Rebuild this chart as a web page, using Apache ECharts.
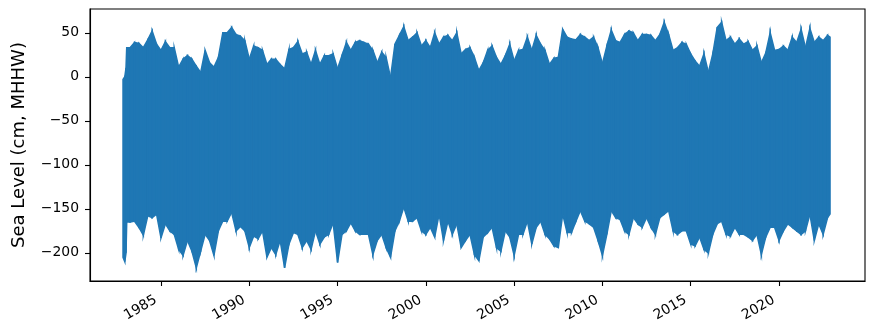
<!DOCTYPE html>
<html><head><meta charset="utf-8">
<script src="https://cdn.jsdelivr.net/npm/echarts@6/dist/echarts.min.js"></script>
<style>html,body{margin:0;padding:0;background:#fff}#chart{width:875px;height:335px}</style>
</head><body><div id="chart"></div>
<script>
// Time (decimal years) of each envelope sample
const years = [1982.85,1982.95,1983.02,1983.06,
1983.25,1983.5,1983.75,1984,1984.25,1984.5,1984.75,1985,1985.25,1985.5,1985.75,1986,
1986.25,1986.5,1986.75,1987,1987.25,1987.5,1987.75,1988,1988.25,1988.5,1988.75,1989,
1989.25,1989.5,1989.75,1990,1990.25,1990.5,1990.75,1991,1991.25,1991.5,1991.75,1992,
1992.25,1992.5,1992.75,1993,1993.25,1993.5,1993.75,1994,1994.25,1994.5,1994.75,1995,
1995.25,1995.5,1995.75,1996,1996.25,1996.5,1996.75,1997,1997.25,1997.5,1997.75,1998,
1998.25,1998.5,1998.75,1999,1999.25,1999.5,1999.75,2000,2000.25,2000.5,2000.75,2001,
2001.25,2001.5,2001.75,2002,2002.25,2002.5,2002.75,2003,2003.25,2003.5,2003.75,2004,
2004.25,2004.5,2004.75,2005,2005.25,2005.5,2005.75,2006,2006.25,2006.5,2006.75,2007,
2007.25,2007.5,2007.75,2008,2008.25,2008.5,2008.75,2009,2009.25,2009.5,2009.75,2010,
2010.25,2010.5,2010.75,2011,2011.25,2011.5,2011.75,2012,2012.25,2012.5,2012.75,2013,
2013.25,2013.5,2013.75,2014,2014.25,2014.5,2014.75,2015,2015.25,2015.5,2015.75,2016,
2016.25,2016.5,2016.75,2017,2017.25,2017.5,2017.75,2018,2018.25,2018.5,2018.75,2019,
2019.25,2019.5,2019.75,2020,2020.25,2020.5,2020.75,2021,2021.25,2021.5,2021.75,2022,
2022.25,2022.5,2022.75,2022.89];

// Upper envelope of hourly sea level (cm, MHHW)
const highLevel = [-3,0,10,33,
33,39,38,33,42,52,37,30,40,33,33,11,
20,24,20,12,5,30,16,11,22,50,50,56,
48,46,41,20,35,33,30,14,20,20,14,9,
31,33,40,26,28,14,30,14,24,24,26,9,
24,39,30,39,41,39,37,30,16,28,22,-1,
37,47,57,41,45,50,35,41,33,50,37,45,
47,41,50,26,31,33,22,7,16,30,35,22,
14,24,37,18,30,31,45,30,47,37,30,14,
21,22,54,45,43,42,48,45,41,45,33,15,
35,53,41,39,48,52,50,41,48,48,47,41,
48,62,48,30,33,39,37,26,18,12,26,5,
26,56,62,41,45,37,43,37,40,30,35,16,
27,50,30,31,35,30,45,39,54,33,55,39,
45,41,47,45];

// Lower envelope of hourly sea level (cm, MHHW)
const lowLevel = [-205,-210,-200,-165,
-165,-164,-171,-180,-158,-160,-156,-183,-167,-175,-179,-196,
-203,-186,-198,-217,-198,-179,-186,-203,-175,-164,-164,-154,
-175,-170,-175,-194,-181,-184,-175,-205,-194,-202,-186,-217,
-190,-177,-179,-194,-186,-196,-175,-190,-182,-179,-166,-211,
-179,-175,-166,-175,-179,-179,-179,-202,-186,-179,-194,-205,
-175,-164,-148,-164,-164,-160,-175,-179,-171,-182,-156,-186,
-164,-179,-167,-194,-186,-179,-202,-209,-182,-177,-171,-194,
-198,-175,-182,-203,-179,-179,-164,-190,-171,-164,-179,-184,
-192,-194,-156,-177,-177,-164,-152,-164,-167,-171,-186,-203,
-179,-152,-160,-162,-175,-179,-160,-167,-171,-160,-171,-179,
-160,-156,-152,-175,-179,-175,-175,-190,-192,-182,-196,-200,
-179,-167,-164,-179,-181,-171,-179,-179,-182,-186,-179,-202,
-182,-171,-171,-186,-175,-167,-171,-175,-179,-175,-156,-186,
-167,-179,-160,-156];

const xTickYears = [1985,1990,1995,2000,2005,2010,2015,2020];
const yTickValues = [-200,-150,-100,-50,0,50];

// segments between consecutive samples: [t0, hi0, lo0, t1, hi1, lo1]
const segments = [];
for (let i = 0; i < years.length - 1; i++) {
  segments.push([years[i], highLevel[i], lowLevel[i], years[i + 1], highLevel[i + 1], lowLevel[i + 1]]);
}

const BLUE = '#1f77b4';
const FONT = 'DejaVu Sans';
const minus = v => (v < 0 ? '\u2212' + Math.abs(v) : String(v));

const chart = echarts.init(document.getElementById('chart'), null, {renderer: 'canvas'});
chart.setOption({
  animation: false,
  backgroundColor: '#ffffff',
  grid: {left: 90, right: 10, top: 9, bottom: 54, show: true, borderColor: '#000', borderWidth: 1.1, backgroundColor: 'transparent'},
  xAxis: {
    type: 'value', min: 1980.98, max: 2024.87,
    axisLine: {show: true, onZero: false, lineStyle: {color: '#000', width: 1.1}},
    axisTick: {show: true, customValues: xTickYears, length: 5, lineStyle: {color: '#000', width: 1.1}},
    axisLabel: {customValues: xTickYears, rotate: 30, margin: 15, padding: [0, 6, 0, 0], color: '#000', fontSize: 13.9, fontFamily: FONT, formatter: v => String(v)},
    splitLine: {show: false}
  },
  yAxis: {
    type: 'value', min: -232, max: 77,
    name: 'Sea Level (cm, MHHW)', nameLocation: 'middle', nameGap: 62,
    nameTextStyle: {color: '#000', fontSize: 18, fontFamily: FONT},
    axisLine: {show: true, onZero: false, lineStyle: {color: '#000', width: 1.1}},
    axisTick: {show: true, customValues: yTickValues, length: 5, lineStyle: {color: '#000', width: 1.1}},
    axisLabel: {customValues: yTickValues, margin: 11, color: '#000', fontSize: 13.9, fontFamily: FONT, formatter: minus},
    splitLine: {show: false}
  },
  series: [{
    type: 'custom',
    data: segments,
    encode: {x: [0, 3], y: [1, 2, 4, 5]},
    renderItem: (params, api) => {
      const a = api.coord([api.value(0), api.value(1)]);
      const b = api.coord([api.value(3), api.value(4)]);
      const c = api.coord([api.value(3), api.value(5)]);
      const d = api.coord([api.value(0), api.value(2)]);
      return {
        type: 'polygon',
        shape: {points: [a, b, c, d]},
        style: {fill: BLUE, stroke: BLUE, lineWidth: 1.5, lineJoin: 'miter'}
      };
    }
  }]
});
</script>
</body></html>
